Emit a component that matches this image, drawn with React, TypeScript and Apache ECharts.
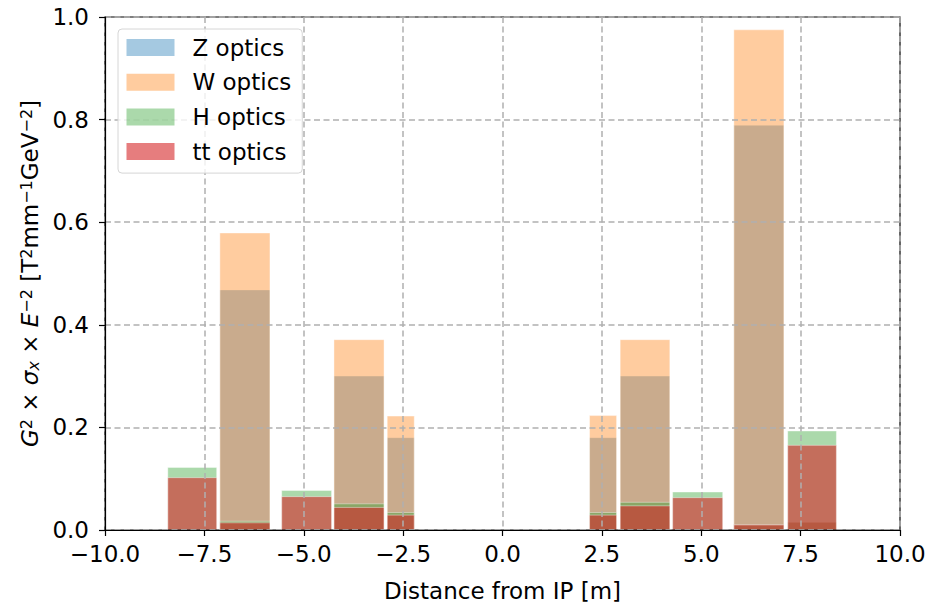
import React, { useEffect, useRef } from "react";
import * as echarts from "echarts";

const binStart = [-8.42, -7.11, -5.555, -4.24, -2.9, 2.19, 2.96, 4.28, 5.82, 7.175];
const binEnd = [-7.19, -5.85, -4.3, -2.98, -2.22, 2.87, 4.21, 5.54, 7.08, 8.4];
const zOptics = [0, 0.468, 0, 0.3, 0.18, 0.18, 0.3, 0, 0.789, 0.015];
const wOptics = [0, 0.579, 0, 0.371, 0.222, 0.223, 0.371, 0, 0.975, 0.015];
const hOptics = [0.122, 0.017, 0.077, 0.051, 0.034, 0.034, 0.054, 0.074, 0.01, 0.193];
const ttOptics = [0.102, 0.014, 0.065, 0.044, 0.029, 0.029, 0.047, 0.063, 0.01, 0.165];

const seriesNames = ["Z optics", "W optics", "H optics", "tt optics"];
const seriesValues = [zOptics, wOptics, hOptics, ttOptics];
const seriesColors = [
  "rgba(31,119,180,0.4)",
  "rgba(255,127,14,0.4)",
  "rgba(44,160,44,0.4)",
  "rgba(214,39,40,0.6)",
];

const xTicks = { min: -10, max: 10, interval: 2.5 };
const yTicks = { min: 0, max: 1, interval: 0.2 };

const FONT = "DejaVu Sans";
const FS = 23;

function fmtNum(v: number) {
  const s = Math.abs(v).toFixed(1);
  return v < 0 ? "\u2212" + s : s;
}

export default function App() {
  const ref = useRef<HTMLDivElement>(null);
  useEffect(() => {
    if (!ref.current) return;
    const chart = echarts.init(ref.current, null, { renderer: "svg" });
    const series = seriesNames.map((name, si) => {
      const data = binStart
        .map((s, i) => [s, binEnd[i], seriesValues[si][i]])
        .filter((d) => d[2] > 0);
      const color = seriesColors[si];
      return {
        type: "custom",
        name,
        z: 2,
        itemStyle: { color },
        encode: { x: [0, 1], y: 2 },
        data,
        renderItem: (params: any, api: any) => {
          const x0 = api.value(0);
          const x1 = api.value(1);
          const y = api.value(2);
          const p0 = api.coord([x0, y]);
          const p1 = api.coord([x1, 0]);
          return {
            type: "rect",
            shape: { x: p0[0], y: p0[1], width: p1[0] - p0[0], height: p1[1] - p0[1] },
            style: { fill: color, stroke: "rgba(255,255,255,0.5)", lineWidth: 0.8 },
          };
        },
      };
    });
    const option: any = {
      animation: false,
      textStyle: { fontFamily: FONT },
      grid: {
        left: 105,
        right: 26,
        top: 17,
        bottom: 72,
        containLabel: false,
        outerBoundsMode: "none",
        show: true,
        borderColor: "#000",
        borderWidth: 1.2,
        z: 3,
      },
      legend: {
        orient: "vertical",
        left: 118,
        top: 29,
        padding: [7, 11, 10, 8.5],
        itemWidth: 48,
        itemHeight: 17,
        itemGap: 11.7,
        icon: "rect",
        backgroundColor: "rgba(255,255,255,0.8)",
        borderColor: "#d6d6d6",
        borderWidth: 1,
        borderRadius: 4,
        z: 6,
        data: seriesNames,
        formatter: (n: string) => "{g| }" + n,
        textStyle: {
          fontFamily: FONT,
          fontSize: FS,
          color: "#000",
          lineHeight: 23,
          rich: { g: { width: 13, fontSize: FS } },
        },
      },
      xAxis: {
        type: "value",
        min: xTicks.min,
        max: xTicks.max,
        interval: xTicks.interval,
        z: 3,
        name: "Distance from IP [m]",
        nameLocation: "middle",
        nameGap: 49,
        nameTextStyle: { fontFamily: FONT, fontSize: FS, color: "#000" },
        axisLine: { show: true, onZero: false, lineStyle: { color: "#000", width: 1.2 } },
        axisTick: { show: true, length: 6, lineStyle: { color: "#000", width: 1.2 } },
        axisLabel: {
          margin: 12,
          fontFamily: FONT,
          fontSize: FS,
          color: "#000",
          formatter: (v: number) => fmtNum(v),
        },
        splitLine: {
          show: true,
          lineStyle: { color: "#b0b0b0", width: 1.5, type: [6, 3.5] },
        },
      },
      yAxis: {
        type: "value",
        min: yTicks.min,
        max: yTicks.max,
        interval: yTicks.interval,
        z: 3,
        name: "{i|G}{sup|2} × {i|σ}{sub|x} × {i|E}{sup|−2} [T{sup|2}mm{sup|−1}GeV{sup|−2}]",
        nameLocation: "middle",
        nameGap: 64,
        nameRotate: 90,
        nameTextStyle: {
          fontFamily: FONT,
          fontSize: FS,
          color: "#000",
          rich: {
            i: { fontFamily: FONT, fontSize: FS, fontStyle: "italic", color: "#000" },
            sup: { fontFamily: FONT, fontSize: 16, verticalAlign: "top", color: "#000" },
            sub: { fontFamily: FONT, fontSize: 16, fontStyle: "italic", verticalAlign: "bottom", color: "#000" },
          },
        },
        axisLine: { show: true, onZero: false, lineStyle: { color: "#000", width: 1.2 } },
        axisTick: { show: true, length: 6, lineStyle: { color: "#000", width: 1.2 } },
        axisLabel: {
          margin: 16,
          fontFamily: FONT,
          fontSize: FS,
          color: "#000",
          formatter: (v: number) => v.toFixed(1),
        },
        splitLine: {
          show: true,
          lineStyle: { color: "#b0b0b0", width: 1.5, type: [6, 3.5] },
        },
      },
      series,
    };
    chart.setOption(option);
    return () => chart.dispose();
  }, []);
  return (
    <div
      ref={ref}
      style={{ position: "fixed", left: 0, top: 0, width: 926, height: 602, background: "#fff" }}
    />
  );
}
